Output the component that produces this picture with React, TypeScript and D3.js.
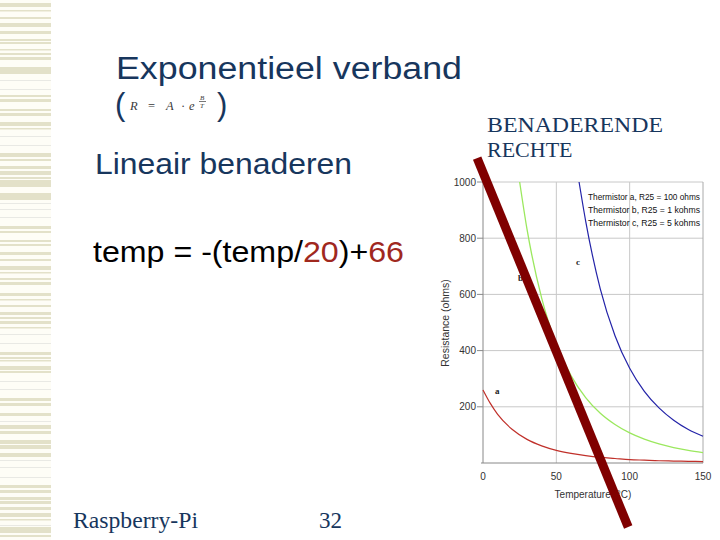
import React from "react";
import * as d3 from "d3";

// ---- Data ----
const tempTicks = [0, 50, 100, 150];
const resTicks = [200, 400, 600, 800, 1000];

// Thermistor a, R25 = 100 ohms
const tempA = [0, 5, 10, 20, 30, 40, 50, 60, 70, 80, 90, 100, 110, 120, 130, 140, 150];
const resA = [260, 212, 173, 119, 84, 61, 45, 34, 26, 20, 16, 12, 10, 8, 7, 6, 5];
// Thermistor b, R25 = 1 kohms
const tempB = [25, 30, 40, 50, 60, 70, 80, 90, 100, 110, 120, 130, 140, 150];
const resB = [1000, 832, 587, 423, 311, 233, 177, 137, 107, 85, 68, 55, 45, 37];
// Thermistor c, R25 = 5 kohms
const tempC = [65.5, 70, 80, 90, 100, 110, 120, 130, 140, 150];
const resC = [1000, 861, 619, 453, 337, 255, 196, 152, 119, 95];
// approximating straight line (benaderende rechte), end points in data units
const lineT = [-4, 99];
const lineR = [1085, -228];

const legendLines = [
  "Thermistor a, R25 = 100 ohms",
  "Thermistor b, R25 = 1 kohms",
  "Thermistor c, R25 = 5 kohms",
];

// decorative stripe band on the left of the slide [y, height, light]
const stripes: [number, number, number][] = [
  [3, 4, 0], [10, 1.5, 0], [17, 2, 0], [23, 4, 0], [31, 3, 0], [39, 2, 0], [42, 2, 0], [49, 1.5, 0],
  [53, 2, 0], [57, 3, 0], [67, 7, 0], [80, 1, 1], [89, 1, 1], [95, 2, 0], [99, 3, 0], [109, 2, 0],
  [113, 3, 0], [122, 4, 0], [128, 1.5, 0], [136, 1, 1], [145, 1, 1], [153, 4, 0], [159, 2, 0],
  [166, 3, 0], [171, 4, 0], [177, 2, 0], [180, 7, 0], [193, 7, 0], [203, 1, 1], [209, 1, 1],
  [217, 1, 1], [226, 3, 0], [231, 2, 0], [240, 2, 0], [244, 2, 0], [252, 3, 0], [259, 2, 0],
  [266, 4, 0], [272, 1.5, 0], [278, 2, 0], [282, 3, 0], [293, 3, 0], [299, 1.5, 0], [305, 2, 0],
  [312, 3, 0], [317, 2, 0], [321, 3, 0], [327, 1.5, 0], [334, 1, 1], [343, 1, 1], [352, 3, 0],
  [357, 2, 0], [360, 1.5, 0], [366, 4, 0], [371, 2, 0], [381, 1, 1], [389, 1, 1], [398, 3, 0],
  [403, 3, 0], [413, 3, 0], [421, 1, 1], [425, 4, 0], [431, 3, 0], [440, 4, 0], [445, 4, 0],
  [453, 4, 0], [460, 1, 1], [467, 1, 1], [477, 1, 1], [485, 3, 0], [490, 3, 0], [497, 3, 0],
  [501, 3, 0], [507, 3, 0], [513, 4, 0], [519, 1.5, 0], [525, 1, 1], [527, 6, 0], [535, 2, 0],
];

const NAVY = "#17365d";
const DARKRED = "#a0281e";

export default function App() {
  const x = d3.scaleLinear().domain([0, 150]).range([483, 703]);
  const y = d3.scaleLinear().domain([0, 1000]).range([463, 182]);

  const mk = (ts: number[], rs: number[]) =>
    d3
      .line<number>()
      .x((_, i) => x(ts[i]))
      .y((_, i) => y(rs[i]))
      .curve(d3.curveMonotoneX)(ts) || "";

  const straight =
    d3
      .line<number>()
      .x((_, i) => x(lineT[i]))
      .y((_, i) => y(lineR[i]))(lineT) || "";

  const axisFont = "'Liberation Sans', Arial, sans-serif";
  const serif = "'Liberation Serif', 'Times New Roman', serif";

  return (
    <div style={{ position: "fixed", left: 0, top: 0 }}>
      <svg width={720} height={540} style={{ display: "block", background: "#ffffff" }}>
        <rect x={0} y={0} width={51} height={540} fill="#fefdf6" />
        {stripes.map(([sy, h, light], i) => (
          <rect key={i} x={0} y={sy} width={51} height={h} fill={light ? "#e9e9e4" : "#e3e1c9"} />
        ))}

        {/* slide texts */}
        <text x={116} y={79} fontFamily={axisFont} fontSize={31} fill={NAVY} textLength={346} lengthAdjust="spacingAndGlyphs">
          Exponentieel verband
        </text>
        <text x={115} y={115} fontFamily={axisFont} fontSize={31} fill={NAVY}>(</text>
        <text x={217} y={115} fontFamily={axisFont} fontSize={31} fill={NAVY}>)</text>
        {/* formula R = A · e^(B/T) */}
        <g fontFamily={serif} fontSize={12.5} fill="#3a3a3a">
          <text x={130} y={110} fontStyle="italic">R</text>
          <text x={148} y={110}>=</text>
          <text x={166} y={110} fontStyle="italic">A</text>
          <text x={181} y={110}>·</text>
          <text x={189} y={110} fontStyle="italic">e</text>
        </g>
        <text x={200} y={100} fontFamily={serif} fontSize={7} fontStyle="italic" fill="#3a3a3a">B</text>
        <line x1={199} x2={206} y1={101.5} y2={101.5} stroke="#555" strokeWidth={0.8} />
        <text x={200} y={107.5} fontFamily={serif} fontSize={7} fontStyle="italic" fill="#3a3a3a">T</text>

        <text x={95} y={174} fontFamily={axisFont} fontSize={30} fill={NAVY} textLength={257} lengthAdjust="spacingAndGlyphs">
          Lineair benaderen
        </text>
        <text x={93} y={262} fontFamily={axisFont} fontSize={30} fill="#000" textLength={311} lengthAdjust="spacingAndGlyphs">
          temp = -(temp/<tspan fill={DARKRED}>20</tspan>)+<tspan fill={DARKRED}>66</tspan>
        </text>
        <text x={73} y={528} fontFamily={serif} fontSize={23} fill={NAVY} textLength={125} lengthAdjust="spacingAndGlyphs">
          Raspberry-Pi
        </text>
        <text x={319} y={528} fontFamily={serif} fontSize={23} fill={NAVY}>32</text>
        <text x={487} y={132} fontFamily={serif} fontSize={22} fill={NAVY} textLength={176} lengthAdjust="spacingAndGlyphs">
          BENADERENDE
        </text>
        <text x={487} y={157} fontFamily={serif} fontSize={22} fill={NAVY}>RECHTE</text>

        {/* chart grid */}
        {resTicks.map((t) => (
          <g key={"y" + t}>
            <line x1={x(0)} x2={x(150)} y1={y(t)} y2={y(t)} stroke="#c8c8c8" strokeWidth={1} />
            <line x1={x(0) - 6} x2={x(0)} y1={y(t)} y2={y(t)} stroke="#888" strokeWidth={1} />
            <text x={x(0) - 7} y={y(t) + 3.5} textAnchor="end" fontFamily={axisFont} fontSize={10} fill="#333">
              {t}
            </text>
          </g>
        ))}
        {tempTicks.map((t) => (
          <g key={"x" + t}>
            {t > 0 && (
              <line x1={x(t)} x2={x(t)} y1={y(0)} y2={y(1000)} stroke={t === 150 ? "#aaa" : "#c8c8c8"} strokeWidth={1} />
            )}
            <text x={x(t)} y={480} textAnchor="middle" fontFamily={axisFont} fontSize={10} fill="#333">
              {t}
            </text>
          </g>
        ))}
        <line x1={x(0)} x2={x(0)} y1={y(0)} y2={y(1000) - 1} stroke="#888" strokeWidth={1} />
        <line x1={x(0) - 2} x2={x(150)} y1={y(0)} y2={y(0)} stroke="#888" strokeWidth={1} />

        <text x={593} y={498} textAnchor="middle" fontFamily={axisFont} fontSize={10} fill="#333">
          Temperature (°C)
        </text>
        <text
          transform={`translate(449, 323) rotate(-90)`}
          textAnchor="middle"
          fontFamily={axisFont}
          fontSize={10.5}
          fill="#333"
        >
          Resistance  (ohms)
        </text>

        {/* curves */}
        <path d={mk(tempA, resA)} fill="none" stroke="#c0302a" strokeWidth={1.2} />
        <path d={mk(tempB, resB)} fill="none" stroke="#9be85e" strokeWidth={1.3} />
        <path d={mk(tempC, resC)} fill="none" stroke="#2323a8" strokeWidth={1.2} />

        <text x={495} y={394} fontFamily={serif} fontSize={9} fontWeight="bold" fill="#222">a</text>
        <text x={518} y={281} fontFamily={serif} fontSize={9} fontWeight="bold" fill="#222">b</text>
        <text x={576} y={265} fontFamily={serif} fontSize={9} fontWeight="bold" fill="#222">c</text>

        {legendLines.map((s, i) => (
          <text
            key={s}
            x={588}
            y={200 + i * 13}
            fontFamily={axisFont}
            fontSize={9.5}
            fill="#111"
            textLength={112}
            lengthAdjust="spacingAndGlyphs"
          >
            {s}
          </text>
        ))}

        {/* approximating straight line */}
        <path d={straight} fill="none" stroke="#800000" strokeWidth={9} />
      </svg>
    </div>
  );
}
